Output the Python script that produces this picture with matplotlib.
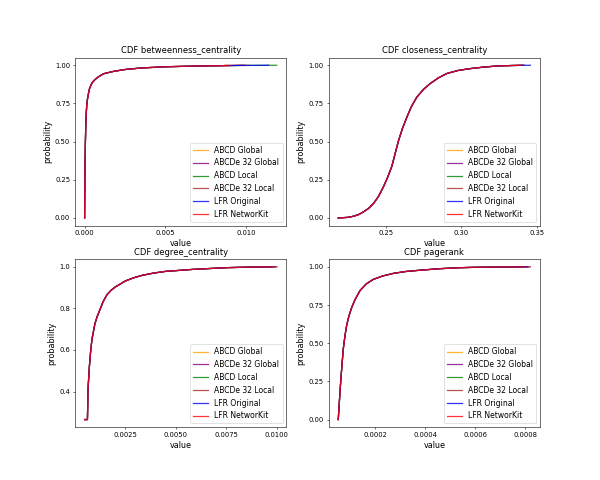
import matplotlib
matplotlib.use("Agg")
import matplotlib.pyplot as plt
from matplotlib.ticker import MaxNLocator

series_names = ["ABCD Global", "ABCDe 32 Global", "ABCD Local",
                "ABCDe 32 Local", "LFR Original", "LFR NetworKit"]
series_colors = ["orange", "purple", "green", "brown", "blue", "red"]

# betweenness_centrality shared CDF
btw_x = [0.0, 0.00002, 0.00005, 0.00007, 0.0001, 0.00013, 0.00018, 0.00024,
         0.0003, 0.0004, 0.0005, 0.00065, 0.0008, 0.001, 0.0012, 0.0018, 0.0025,
         0.0035, 0.005, 0.007, 0.009]
btw_p = [0.0, 0.30, 0.50, 0.60, 0.68, 0.735, 0.78, 0.815, 0.845, 0.872, 0.89,
         0.907, 0.92, 0.934, 0.945, 0.96, 0.972, 0.982, 0.99, 0.995, 0.998]
btw_end = [0.0102, 0.0098, 0.0119, 0.0100, 0.0114, 0.0087]

# closeness_centrality shared CDF
clo_x = [0.2185, 0.225, 0.2285, 0.232, 0.2351, 0.2385, 0.2418, 0.245, 0.2484,
         0.2512, 0.254, 0.2562, 0.2584, 0.261, 0.264, 0.267, 0.2706, 0.275,
         0.2794, 0.285, 0.2905, 0.298, 0.306, 0.315, 0.3237, 0.333]
clo_p = [0.0, 0.004, 0.011, 0.022, 0.039, 0.062, 0.094, 0.138, 0.203, 0.266,
         0.338, 0.422, 0.505, 0.585, 0.661, 0.73, 0.792, 0.842, 0.880, 0.918,
         0.946, 0.966, 0.978, 0.988, 0.995, 0.998]
clo_end = [0.3415, 0.3405, 0.3410, 0.3420, 0.3458, 0.3400]

# degree_centrality shared CDF
deg_x = [0.00048, 0.00062, 0.00065, 0.00072, 0.00079, 0.00085, 0.00092, 0.00099,
         0.0011, 0.00126, 0.0014, 0.00159, 0.0018, 0.002, 0.0025, 0.0029,
         0.00333, 0.0039, 0.00448, 0.00588, 0.0075, 0.0088]
deg_p = [0.265, 0.265, 0.413, 0.525, 0.606, 0.654, 0.69, 0.726, 0.76, 0.799,
         0.833, 0.866, 0.888, 0.903, 0.932, 0.947, 0.959, 0.97, 0.978, 0.988,
         0.996, 0.999]
deg_end = [0.0099, 0.0098, 0.0100, 0.0097, 0.0099, 0.0100]

# pagerank shared CDF
pr_x = [0.000053, 0.000058, 0.0000627, 0.000068, 0.0000733, 0.00008, 0.0000867,
        0.000096, 0.000107, 0.00012, 0.00014, 0.000165, 0.000193, 0.00023,
        0.000273, 0.00032, 0.00038, 0.00046, 0.00053, 0.0006, 0.0007]
pr_p = [0.0, 0.13, 0.246, 0.36, 0.465, 0.55, 0.618, 0.68, 0.735, 0.785, 0.845,
        0.888, 0.918, 0.94, 0.957, 0.969, 0.978, 0.988, 0.994, 0.997, 0.999]
pr_end = [0.00082, 0.00081, 0.00080, 0.00082, 0.00081, 0.00080]

panels = [
    ("CDF betweenness_centrality", btw_x, btw_p, btw_end),
    ("CDF closeness_centrality", clo_x, clo_p, clo_end),
    ("CDF degree_centrality", deg_x, deg_p, deg_end),
    ("CDF pagerank", pr_x, pr_p, pr_end),
]

fig, axes = plt.subplots(2, 2, figsize=(12, 9.6), dpi=50)
for ax, (title, xs, ps, ends) in zip(axes.flat, panels):
    for name, color, end in zip(series_names, series_colors, ends):
        ax.plot(list(xs) + [end], list(ps) + [1.0], color=color, alpha=0.8,
                lw=1.8, label=name)
    ax.set_title(title, fontsize=12)
    ax.set_xlabel("value", fontsize=11.5)
    ax.set_ylabel("probability", fontsize=11.5)
    ax.tick_params(labelsize=9.8)
    ax.xaxis.set_major_locator(MaxNLocator(5, steps=[1, 2, 2.5, 5, 10]))
    ax.yaxis.set_major_locator(MaxNLocator(5, steps=[1, 2, 2.5, 5, 10]))
    ax.legend(loc="lower right", fontsize=11)

fig.savefig("out.png", dpi=50)
